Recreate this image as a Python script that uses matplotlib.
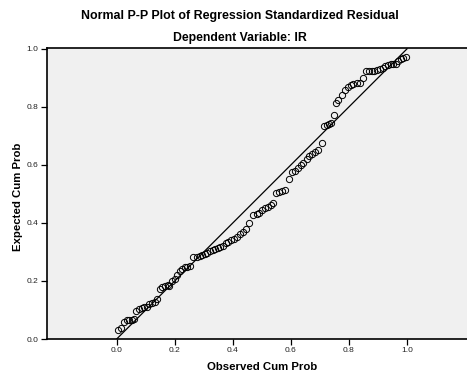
import matplotlib
matplotlib.use("Agg")
import matplotlib.pyplot as plt

# observed vs expected cumulative probability
observed = [0.006, 0.016, 0.026, 0.035, 0.043, 0.052, 0.060, 0.068, 0.077, 0.086,
            0.095, 0.103, 0.112, 0.121, 0.131, 0.140, 0.149, 0.157, 0.166, 0.176,
            0.180, 0.189, 0.200, 0.209, 0.218, 0.226, 0.235, 0.243, 0.252, 0.264,
            0.276, 0.286, 0.295, 0.303, 0.312, 0.322, 0.331, 0.339, 0.348, 0.357,
            0.365, 0.375, 0.385, 0.395, 0.405, 0.416, 0.425, 0.436, 0.445, 0.457,
            0.471, 0.482, 0.491, 0.501, 0.511, 0.520, 0.530, 0.540, 0.550, 0.560,
            0.571, 0.581, 0.594, 0.603, 0.614, 0.625, 0.634, 0.643, 0.654, 0.664,
            0.672, 0.683, 0.695, 0.706, 0.714, 0.723, 0.731, 0.738, 0.747, 0.755,
            0.764, 0.775, 0.786, 0.796, 0.806, 0.815, 0.827, 0.838, 0.848, 0.859,
            0.869, 0.878, 0.887, 0.898, 0.907, 0.916, 0.925, 0.936, 0.944, 0.953,
            0.962, 0.970, 0.979, 0.987, 0.997]
expected = [0.031, 0.037, 0.060, 0.064, 0.065, 0.065, 0.068, 0.097, 0.102, 0.106,
            0.109, 0.112, 0.119, 0.124, 0.129, 0.137, 0.171, 0.178, 0.183, 0.186,
            0.184, 0.200, 0.206, 0.221, 0.236, 0.241, 0.247, 0.249, 0.251, 0.282,
            0.284, 0.287, 0.290, 0.293, 0.297, 0.303, 0.307, 0.310, 0.313, 0.316,
            0.319, 0.330, 0.336, 0.340, 0.345, 0.353, 0.363, 0.368, 0.378, 0.400,
            0.429, 0.431, 0.435, 0.446, 0.451, 0.454, 0.462, 0.470, 0.504, 0.508,
            0.510, 0.514, 0.550, 0.577, 0.580, 0.589, 0.600, 0.608, 0.620, 0.630,
            0.638, 0.646, 0.652, 0.677, 0.734, 0.738, 0.741, 0.744, 0.772, 0.813,
            0.824, 0.841, 0.857, 0.869, 0.875, 0.879, 0.881, 0.882, 0.899, 0.923,
            0.924, 0.925, 0.925, 0.928, 0.930, 0.933, 0.940, 0.945, 0.947, 0.948,
            0.947, 0.959, 0.965, 0.970, 0.971]
ticks = [0.0, 0.2, 0.4, 0.6, 0.8, 1.0]

plt.rcParams['font.family'] = ['Liberation Sans', 'DejaVu Sans']

fig = plt.figure(figsize=(4.67, 3.76), dpi=100)
ax = fig.add_axes([0.1, 0.0984, 0.927, 0.774])
ax.set_facecolor('#f0f0f0')

ax.plot([0, 1], [0, 1], color='black', lw=0.9)
ax.plot(observed, expected, 'o', mfc='none', mec='black', ms=4.5, mew=0.7)

ax.set_xlim(-0.241, 1.25)
ax.set_ylim(0, 1.003)
ax.set_xticks(ticks)
ax.set_yticks(ticks)
ax.set_xticklabels(['%.1f' % t for t in ticks])
ax.set_yticklabels(['%.1f' % t for t in ticks])
ax.tick_params(labelsize=6, labelcolor='#222222', length=4, width=0.9, pad=2)
for s in ['left', 'bottom', 'top']:
    ax.spines[s].set_linewidth(1.2)
ax.spines['right'].set_visible(False)

fig.text(0.514, 0.957, 'Normal P-P Plot of Regression Standardized Residual',
         ha='center', va='center', fontsize=8.9, fontweight='bold')
fig.text(0.514, 0.899, 'Dependent Variable: IR',
         ha='center', va='center', fontsize=8.8, fontweight='bold')
fig.text(0.561, 0.024, 'Observed Cum Prob', ha='center', va='center',
         fontsize=8.2, fontweight='bold')
fig.text(0.0385, 0.476, 'Expected Cum Prob', ha='center', va='center',
         rotation=90, fontsize=8.2, fontweight='bold')

fig.savefig('out.png', dpi=100)
